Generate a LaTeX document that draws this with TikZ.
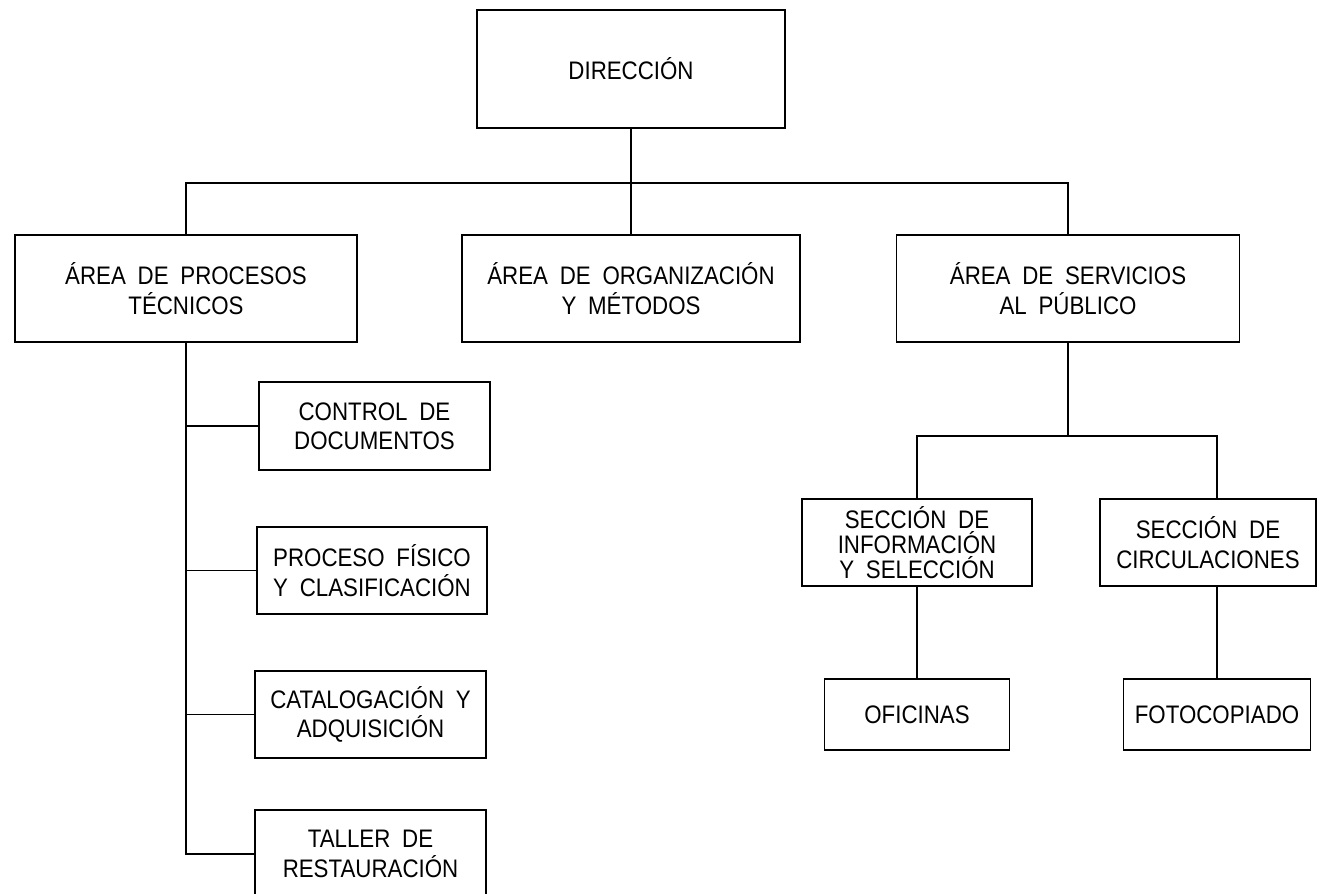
\documentclass[tikz,border=0pt]{standalone}
\usepackage{fontspec}
\setmainfont[FakeStretch=0.88,WordSpace=1.9]{Liberation Sans}
\usepackage{tikz}

\begin{document}
\begin{tikzpicture}[x=0.75pt,y=0.75pt,yscale=-1,xscale=1,
  caja/.style={draw,line width=1.4pt,align=center,inner sep=0pt,
    font=\fontsize{19}{22}\selectfont},
  linea/.style={line width=1.4pt}]
%set diagram area: 1319 x 893
\clip (0,0) rectangle (1319,893);

%Shape: Rectangle [DIRECCION]
\node [caja,minimum width=231pt,minimum height=88.5pt] (dir) at (631,69) {DIRECCIÓN};

%Shape: Rectangle [areas]
\node [caja,minimum width=256.5pt,minimum height=80.25pt] (pt) at (186,288.5) {ÁREA DE PROCESOS\\TÉCNICOS};
\node [caja,minimum width=253.5pt,minimum height=80.25pt] (om) at (631,288.5) {ÁREA DE ORGANIZACIÓN\\Y MÉTODOS};
\node [caja,minimum width=257.25pt,minimum height=80.25pt] (sp) at (1068,288.5) {ÁREA DE SERVICIOS\\AL PÚBLICO};

%Shape: Rectangle [procesos tecnicos]
\node [caja,minimum width=173.25pt,minimum height=66pt] (cd) at (374.5,426) {CONTROL DE\\DOCUMENTOS};
\node [caja,minimum width=172.5pt,minimum height=65.25pt] (pf) at (372,570.5) {PROCESO FÍSICO\\Y CLASIFICACIÓN};
\node [caja,minimum width=173.25pt,minimum height=65.25pt] (ca) at (370.5,714.5) {CATALOGACIÓN Y\\ADQUISICIÓN};
\node [caja,minimum width=173.25pt,minimum height=66pt] (tr) at (370.5,854) {TALLER DE\\RESTAURACIÓN};

%Shape: Rectangle [servicios al publico]
\node [caja,minimum width=172.5pt,minimum height=65.25pt,font=\fontsize{19}{18.5}\selectfont] (si) at (917,542.5) {SECCIÓN DE\\INFORMACIÓN\\Y SELECCIÓN};
\node [caja,minimum width=162pt,minimum height=65.25pt] (sc) at (1208,542.5) {SECCIÓN DE\\CIRCULACIONES};
\node [caja,minimum width=138.75pt,minimum height=53.25pt] (of) at (917,714.5) {OFICINAS};
\node [caja,minimum width=140.25pt,minimum height=53.25pt] (fc) at (1217,714.5) {FOTOCOPIADO};

%Straight Lines
\coordinate (top) at (631,183);
\coordinate (bus) at (1068,436);
\draw [linea] (dir.south) -- (om.north);
\draw [linea] (pt.north) |- (top) -| (sp.north);
\draw [linea] (pt.south) |- (tr.west);
\draw [linea] (pt.south |- cd.west) -- (cd.west);
\draw [linea] (pt.south |- pf.west) -- (pf.west);
\draw [linea] (pt.south |- ca.west) -- (ca.west);
\draw [linea] (sp.south) -- (bus);
\draw [linea] (si.north) |- (bus) -| (fc.north |- sc.north);
\draw [linea] (si.south) -- (of.north);
\draw [linea] (fc.north |- sc.south) -- (fc.north);
\end{tikzpicture}
\end{document}
